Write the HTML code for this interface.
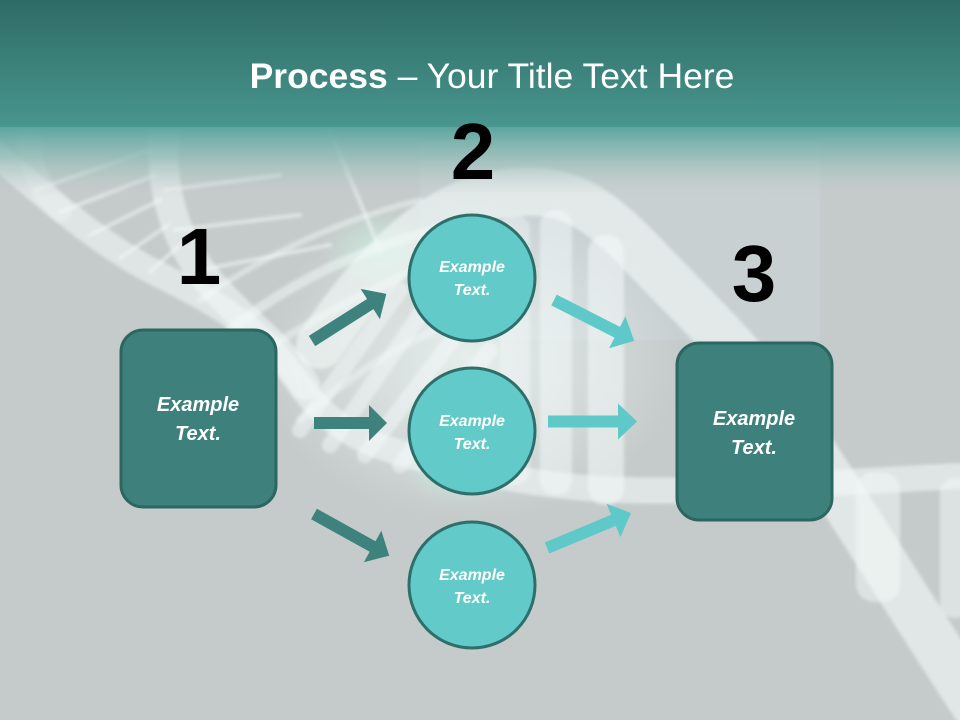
<!DOCTYPE html>
<html><head><meta charset="utf-8"><style>
html,body{margin:0;padding:0;}
body{width:960px;height:720px;overflow:hidden;background:#c5cbca;}
svg{display:block;}
</style></head><body>
<svg width="960" height="720" viewBox="0 0 960 720" xmlns="http://www.w3.org/2000/svg">
<defs>
<linearGradient id="hdr" x1="0" y1="0" x2="0" y2="1">
<stop offset="0" stop-color="#2e6b66"/>
<stop offset="1" stop-color="#48968e"/>
</linearGradient>
<linearGradient id="fade" x1="0" y1="0" x2="0" y2="1">
<stop offset="0" stop-color="#5aa59e" stop-opacity="1"/>
<stop offset="0.45" stop-color="#8fbab6" stop-opacity="0.75"/>
<stop offset="1" stop-color="#c5cbca" stop-opacity="0"/>
</linearGradient>
<radialGradient id="glow" cx="0.5" cy="0.5" r="0.5">
<stop offset="0" stop-color="#eef7f5" stop-opacity="0.8"/>
<stop offset="1" stop-color="#eef7f5" stop-opacity="0"/>
</radialGradient>
<radialGradient id="mint" cx="0.5" cy="0.5" r="0.5">
<stop offset="0" stop-color="#c8ecdc" stop-opacity="0.8"/>
<stop offset="1" stop-color="#c8ecdc" stop-opacity="0"/>
</radialGradient>
<filter id="bl" x="-20%" y="-20%" width="140%" height="140%"><feGaussianBlur stdDeviation="1.5"/></filter>
</defs>

<rect x="0" y="0" width="960" height="720" fill="#c5cbca"/>
<rect x="420" y="140" width="400" height="200" fill="#ccd4d8" opacity="0.6" filter="url(#bl)"/>

<g filter="url(#bl)">
  <ellipse cx="470" cy="360" rx="210" ry="160" fill="url(#glow)"/>
  <ellipse cx="380" cy="250" rx="60" ry="40" fill="url(#mint)"/>
  <ellipse cx="460" cy="470" rx="60" ry="35" fill="url(#mint)"/>
  <g fill="none" stroke="#f4faf9" stroke-linecap="round">
    <path d="M -10 150 C 40 190, 90 240, 160 275 S 260 330, 300 385 S 380 450, 470 470 S 620 492, 700 490 L 960 476" stroke-width="26" stroke-opacity="0.55"/>
    <path d="M 165 120 C 158 180, 172 240, 212 285 S 280 345, 305 385" stroke-width="30" stroke-opacity="0.55"/>
    <path d="M 30 125 C 25 160, 40 190, 60 210" stroke-width="24" stroke-opacity="0.3"/>
    <path d="M 320 345 C 370 270, 430 205, 500 194 S 600 210, 650 262 S 740 350, 790 420 S 880 560, 975 705" stroke-width="48" stroke-opacity="0.6"/>
    <path d="M 230 330 Q 330 250 470 222" stroke-width="10" stroke-opacity="0.5"/>
    <path d="M 250 360 Q 370 280 500 240" stroke-width="8" stroke-opacity="0.45"/>
    <path d="M 300 420 Q 400 330 520 300" stroke-width="8" stroke-opacity="0.4"/>
    <path d="M 200 300 Q 300 230 420 200" stroke-width="6" stroke-opacity="0.45"/>
  </g>
  <g stroke="#f4faf9" stroke-opacity="0.55" stroke-width="4" stroke-linecap="round">
    <line x1="35" y1="190" x2="150" y2="150"/>
    <line x1="60" y1="212" x2="155" y2="175"/>
    <line x1="90" y1="235" x2="160" y2="200"/>
    <line x1="120" y1="258" x2="168" y2="225"/>
    <line x1="150" y1="272" x2="180" y2="245"/>
    <line x1="165" y1="190" x2="280" y2="175"/>
    <line x1="175" y1="230" x2="300" y2="215"/>
    <line x1="200" y1="270" x2="330" y2="245"/>
    <line x1="330" y1="130" x2="380" y2="250"/>
  </g>
  <g stroke="#f4faf9" stroke-opacity="0.5" stroke-width="16" stroke-linecap="round">
    <line x1="300" y1="430" x2="400" y2="290"/>
    <line x1="330" y1="445" x2="430" y2="300"/>
    <line x1="365" y1="455" x2="460" y2="330"/>
    <line x1="400" y1="465" x2="490" y2="350"/>
  </g>
  <g fill="#f4faf9">
    <rect x="500" y="215" width="30" height="270" rx="14" opacity="0.4"/>
    <rect x="540" y="210" width="32" height="285" rx="15" opacity="0.5"/>
    <rect x="588" y="235" width="36" height="270" rx="17" opacity="0.55"/>
    <rect x="856" y="472" width="44" height="130" rx="18" opacity="0.5"/>
    <rect x="940" y="478" width="30" height="140" rx="14" opacity="0.5"/>
  </g>
</g>

<rect x="0" y="126" width="960" height="72" fill="url(#fade)"/>
<rect x="0" y="0" width="960" height="127" fill="url(#hdr)"/>

<text x="492" y="88" text-anchor="middle" fill="#ffffff" font-family="Liberation Sans, sans-serif" font-size="35.5"><tspan font-weight="bold">Process</tspan> – Your Title Text Here</text>

<g font-family="Liberation Sans, sans-serif" font-weight="bold" font-size="80" fill="#000" text-anchor="middle">
<text x="473" y="179">2</text>
<text x="199" y="284">1</text>
<text x="754" y="301">3</text>
</g>

<rect x="121" y="330" width="155" height="177" rx="22" fill="#3e817c" stroke="#2b6661" stroke-width="3"/>
<rect x="677" y="343" width="155" height="177" rx="22" fill="#3e817c" stroke="#2b6661" stroke-width="3"/>

<g fill="#63caca" stroke="#2d6f6b" stroke-width="3">
<circle cx="472" cy="278" r="63"/>
<circle cx="472" cy="431" r="63"/>
<circle cx="472" cy="585" r="63"/>
</g>

<g fill="#3d827c">
<polygon transform="translate(312,341) rotate(-32.4)" points="0,-6 69,-6 69,-18 88,0 69,18 69,6 0,6"/>
<polygon transform="translate(314,423)" points="0,-6 55,-6 55,-18 73,0 55,18 55,6 0,6"/>
<polygon transform="translate(314,514) rotate(29)" points="0,-6 67,-6 67,-18 86,0 67,18 67,6 0,6"/>
</g>
<g fill="#5fc8c8">
<polygon transform="translate(554,300) rotate(27)" points="0,-6 71,-6 71,-18 90,0 71,18 71,6 0,6"/>
<polygon transform="translate(548,421.5)" points="0,-6 70,-6 70,-18 89,0 70,18 70,6 0,6"/>
<polygon transform="translate(547,548) rotate(-22.6)" points="0,-6 72,-6 72,-18 91,0 72,18 72,6 0,6"/>
</g>

<g font-family="Liberation Sans, sans-serif" font-weight="bold" font-style="italic" fill="#ffffff" text-anchor="middle">
<text x="198" y="411" font-size="20">Example</text>
<text x="198" y="440" font-size="20">Text.</text>
<text x="754" y="425" font-size="20">Example</text>
<text x="754" y="454" font-size="20">Text.</text>
<text x="472" y="272" font-size="16">Example</text>
<text x="472" y="295" font-size="16">Text.</text>
<text x="472" y="426" font-size="16">Example</text>
<text x="472" y="449" font-size="16">Text.</text>
<text x="472" y="580" font-size="16">Example</text>
<text x="472" y="603" font-size="16">Text.</text>
</g>
</svg>
</body></html>
